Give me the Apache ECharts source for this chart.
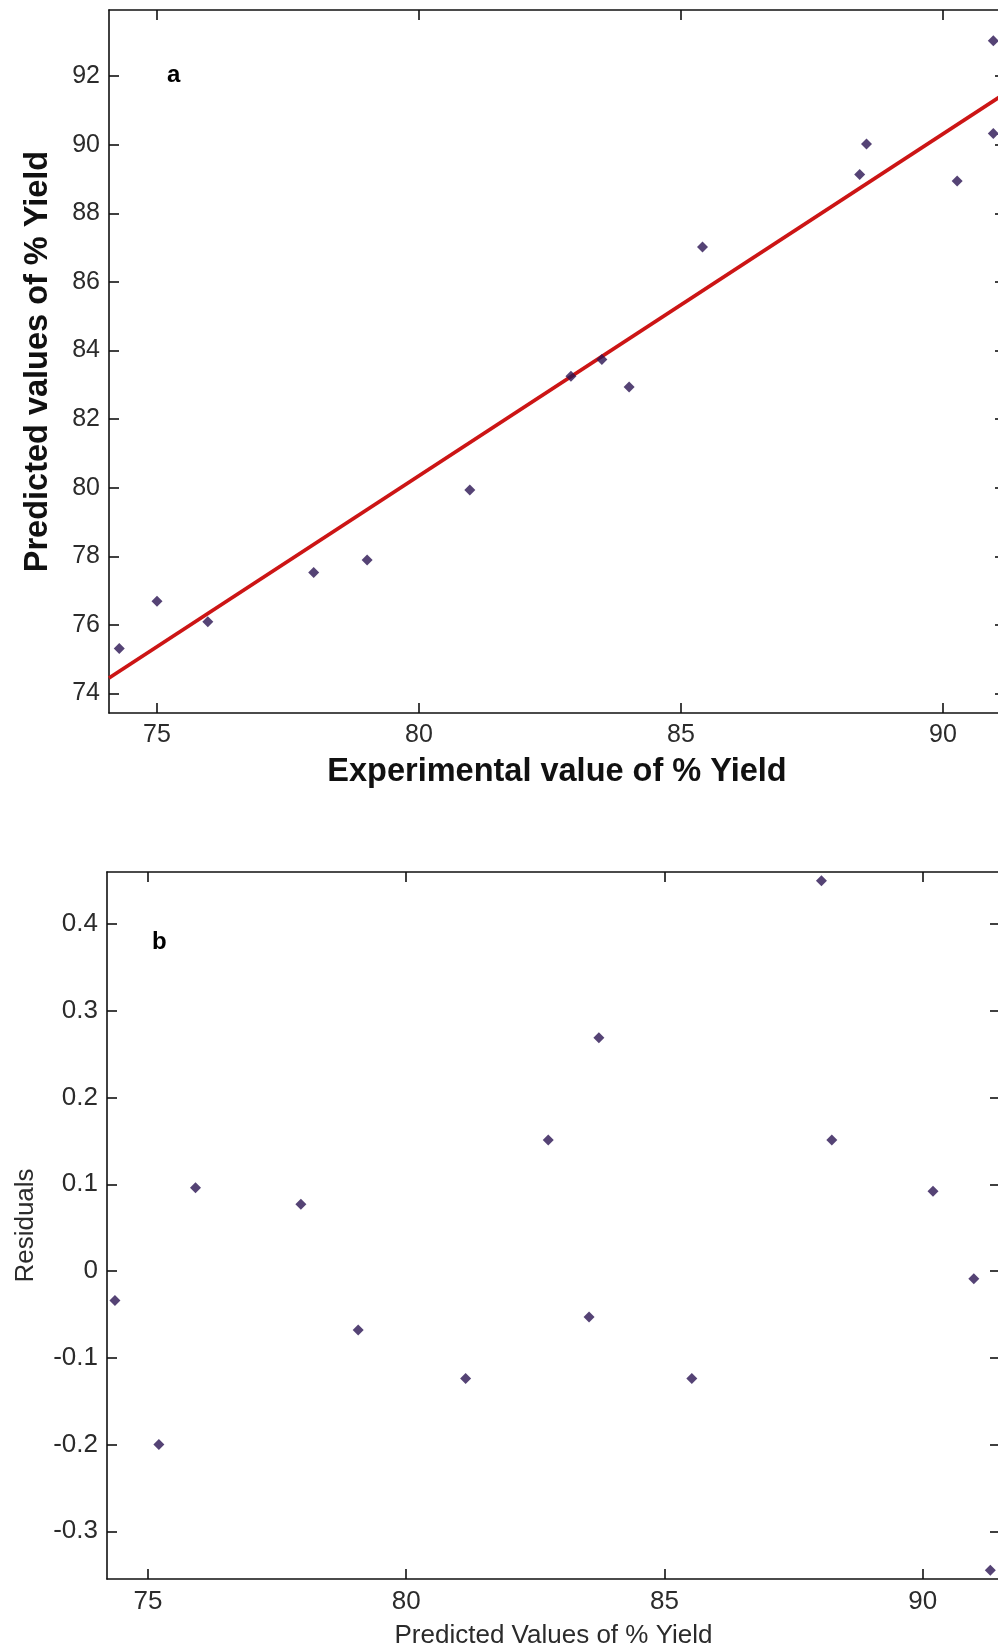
<!DOCTYPE html>
<html>
<head>
    <meta charset="UTF-8">
    <title>Predicted vs experimental % Yield</title>
    <script src="https://cdn.jsdelivr.net/npm/echarts@6.0.0/dist/echarts.min.js"></script>
    <style>
        html, body { margin: 0; padding: 0; background: #fff; overflow: hidden; }
        #main { width: 998px; height: 1652px; }
    </style>
</head>
<body>
<div id="main"></div>
<script>
    // (a) experimental vs predicted % yield
    var expValues  = [74.28, 75.00, 75.97, 77.99, 79.01, 80.97, 82.90, 83.49, 84.01, 85.41, 88.41, 88.54, 90.27, 90.96, 90.96];
    var predValues = [75.31, 76.69, 76.09, 77.53, 77.89, 79.93, 83.25, 83.74, 82.94, 87.02, 89.13, 90.02, 88.94, 93.03, 90.33];
    // fitted line end points [x, y]
    var fitLine = [[74.084, 74.45], [91.183, 91.50]];

    // (b) residuals vs predicted
    var predB     = [74.36, 75.21, 75.92, 77.96, 79.07, 81.15, 82.75, 83.54, 83.73, 85.53, 88.04, 88.24, 90.20, 90.99, 91.31];
    var residuals = [-0.034, -0.200, 0.096, 0.077, -0.068, -0.124, 0.151, -0.053, 0.269, -0.124, 0.450, 0.151, 0.092, -0.009, -0.345];

    var ticksAX = [75, 80, 85, 90];
    var ticksAY = [74, 76, 78, 80, 82, 84, 86, 88, 90, 92];
    var ticksBX = [75, 80, 85, 90];
    var ticksBY = [-0.3, -0.2, -0.1, 0, 0.1, 0.2, 0.3, 0.4];

    var pointsA = expValues.map(function (x, i) { return [x, predValues[i]]; });
    var pointsB = predB.map(function (x, i) { return [x, residuals[i]]; });

    var FONT = '"Liberation Sans", Arial, sans-serif';
    var lineStyle = {color: '#111', width: 1.6};

    function axis(kind, grid, pos, min, max, ticks, withLabel, fontSize) {
        return {
            type: 'value',
            gridIndex: grid,
            position: pos,
            min: min,
            max: max,
            splitLine: {show: false},
            axisLine: {show: true, onZero: false, lineStyle: lineStyle},
            axisTick: {show: true, inside: true, length: 10, customValues: ticks, lineStyle: lineStyle},
            axisLabel: {
                show: withLabel,
                customValues: ticks,
                color: '#2b2b2b',
                fontFamily: FONT,
                fontSize: fontSize,
                margin: kind === 'x' ? 10 : 9
            }
        };
    }

    var myChart = echarts.init(document.getElementById('main'));
    myChart.setOption({
        animation: false,
        backgroundColor: '#fff',
        grid: [
            {left: 109, top: 10, width: 896, height: 703, outerBoundsMode: 'none', containLabel: false},
            {left: 107, top: 872, width: 893, height: 707, outerBoundsMode: 'none', containLabel: false}
        ],
        xAxis: [
            Object.assign(axis('x', 0, 'bottom', 74.084, 91.183, ticksAX, true, 25), {
                name: 'Experimental value of % Yield',
                nameLocation: 'middle',
                nameGap: 43,
                nameTextStyle: {fontFamily: FONT, fontWeight: 'bold', fontSize: 32.5, color: '#111'}
            }),
            axis('x', 0, 'top', 74.084, 91.183, ticksAX, false, 25),
            Object.assign(axis('x', 1, 'bottom', 74.206, 91.497, ticksBX, true, 26), {
                name: 'Predicted Values of % Yield',
                nameLocation: 'middle',
                nameGap: 44,
                nameTextStyle: {fontFamily: FONT, fontSize: 26, color: '#2b2b2b'}
            }),
            axis('x', 1, 'top', 74.206, 91.497, ticksBX, false, 26)
        ],
        yAxis: [
            Object.assign(axis('y', 0, 'left', 73.43, 93.93, ticksAY, true, 25), {
                name: 'Predicted values of % Yield',
                nameLocation: 'middle',
                nameGap: 54,
                nameTextStyle: {fontFamily: FONT, fontWeight: 'bold', fontSize: 32.5, color: '#111'}
            }),
            axis('y', 0, 'right', 73.43, 93.93, ticksAY, false, 25),
            Object.assign(axis('y', 1, 'left', -0.355, 0.46, ticksBY, true, 26), {
                name: 'Residuals',
                nameLocation: 'middle',
                nameGap: 68,
                nameTextStyle: {fontFamily: FONT, fontSize: 26, color: '#2b2b2b'}
            }),
            axis('y', 1, 'right', -0.355, 0.46, ticksBY, false, 26)
        ],
        graphic: [
            {type: 'text', left: 167, top: 63, style: {text: 'a', font: 'bold 24px ' + FONT, fill: '#000'}},
            {type: 'text', left: 152, top: 930, style: {text: 'b', font: 'bold 24px ' + FONT, fill: '#000'}}
        ],
        series: [
            {
                type: 'line',
                xAxisIndex: 0,
                yAxisIndex: 0,
                data: fitLine,
                symbol: 'none',
                lineStyle: {color: '#cc1515', width: 3.8},
                z: 2
            },
            {
                type: 'scatter',
                xAxisIndex: 0,
                yAxisIndex: 0,
                data: pointsA,
                symbol: 'diamond',
                symbolSize: 11,
                itemStyle: {color: '#2a1452'},
                z: 3
            },
            {
                type: 'scatter',
                xAxisIndex: 2,
                yAxisIndex: 2,
                data: pointsB,
                symbol: 'diamond',
                symbolSize: 11,
                itemStyle: {color: '#2a1452'},
                z: 3
            }
        ]
    });
</script>
</body>
</html>
